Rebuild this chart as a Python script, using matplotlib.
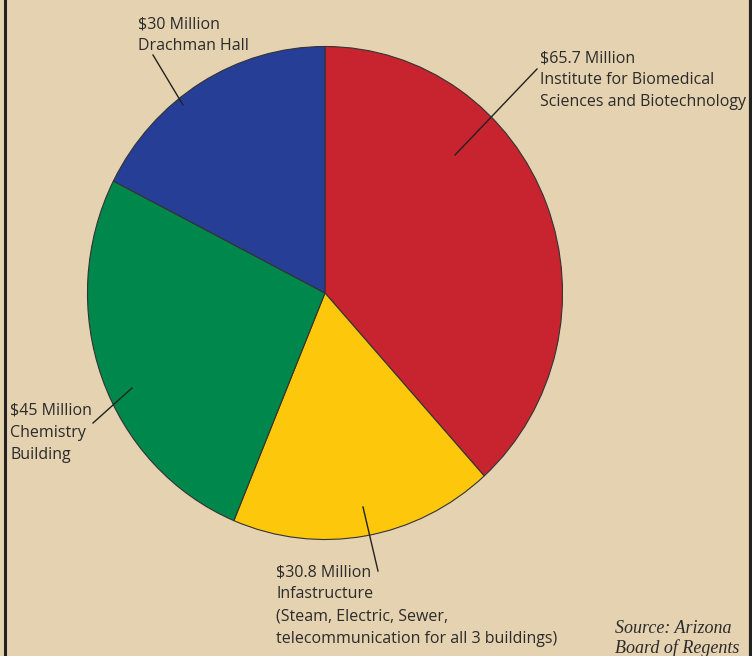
import matplotlib
matplotlib.use("Agg")
import matplotlib.pyplot as plt

# Construction costs (millions of dollars), clockwise from 12 o'clock
projects = [
    "Institute for Biomedical\nSciences and Biotechnology",
    "Infastructure\n(Steam, Electric, Sewer,\ntelecommunication for all 3 buildings)",
    "Chemistry\nBuilding",
    "Drachman Hall",
]
amounts = [65.7, 30.8, 45, 30]
amount_labels = ["$65.7 Million", "$30.8 Million", "$45 Million", "$30 Million"]
colors = ["#C8242F", "#FDC70C", "#00874B", "#263E96"]

BG = "#E5D2B1"
INK = "#2B2B2B"

fig = plt.figure(figsize=(7.52, 6.56), dpi=100, facecolor=BG)

# pie sits in its own axes (slightly taller than wide, like the original)
pax = fig.add_axes([87 / 752, 116 / 656, 476 / 752, 494 / 656])
pax.pie(amounts, colors=colors, startangle=90, counterclock=False,
        wedgeprops=dict(edgecolor="#333333", linewidth=0.8))
pax.set_xlim(-1.002, 1.002)
pax.set_ylim(-1.002, 1.002)
pax.set_aspect("auto")
pax.axis("off")

# overlay in pixel coordinates for labels and leader lines
ax = fig.add_axes([0, 0, 1, 1], zorder=5)
ax.set_xlim(0, 752)
ax.set_ylim(656, 0)
ax.axis("off")
ax.patch.set_alpha(0)

# frame rules at left and right edges
ax.plot([5, 5], [0, 656], color="#222222", lw=2.2)
ax.plot([750.5, 750.5], [0, 656], color="#222222", lw=3)

txt = dict(color=INK, fontsize=11.5, family="Open Sans", va="top",
           ha="left", linespacing=1.52)
label_pos = [(540, 50), (276, 564), (10, 403), (138, 16)]
for (x, y), amt, name in zip(label_pos, amount_labels, projects):
    ax.text(x, y, amt + "\n" + name, **txt)

leaders = [((537, 69), (455, 155)), ((378, 571), (363, 507)),
           ((93, 423), (132, 388)), ((153, 55), (183, 105))]
for (x0, y0), (x1, y1) in leaders:
    ax.plot([x0, x1], [y0, y1], color="#222222", lw=1.0)

ax.text(615, 620, "Source: Arizona\nBoard of Regents", color=INK, fontsize=13,
        family="Liberation Serif", style="italic", va="top", ha="left",
        linespacing=1.15)

fig.savefig("out.png", dpi=100, facecolor=BG)
